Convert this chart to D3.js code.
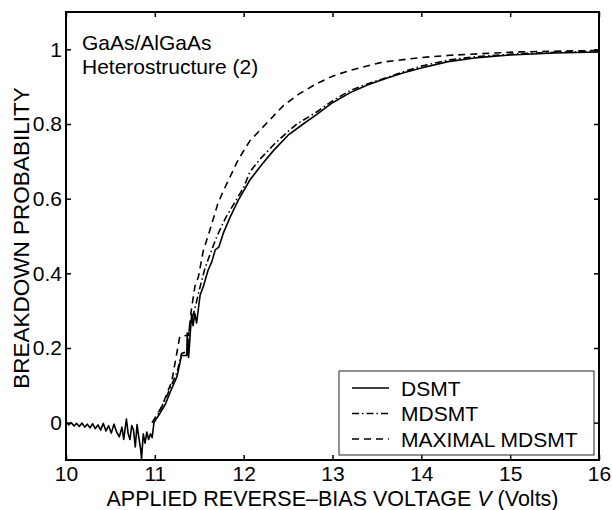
<!DOCTYPE html>
<html><head><meta charset="utf-8">
<script src="https://cdn.jsdelivr.net/npm/d3@7"></script>
<style>html,body{margin:0;padding:0;background:#fff;}svg{display:block;}</style>
</head><body>
<script>
const xTicks = [10, 11, 12, 13, 14, 15, 16];
const yTicks = [0, 0.2, 0.4, 0.6, 0.8, 1];
const yTickLabels = ["0", "0.2", "0.4", "0.6", "0.8", "1"];

const dsmtV = [10.00,10.03,10.06,10.09,10.12,10.15,10.18,10.21,10.24,10.27,10.30,10.33,10.36,10.39,10.42,10.45,10.48,10.51,10.54,10.57,10.60,10.63,10.65,10.68,10.70,10.72,10.74,10.76,10.78,10.80,10.82,10.84,10.85,10.87,10.89,10.91,10.93,10.95,10.97,10.99,11.06,11.12,11.17,11.25,11.30,11.36,11.365,11.38,11.40,11.415,11.43,11.45,11.47,11.51,11.545,11.60,11.64,11.68,11.72,11.77,11.85,11.94,12.07,12.2,12.34,12.5,12.67,12.82,13.0,13.2,13.4,13.6,13.8,14.0,14.3,14.6,15.0,15.5,16.0];
const dsmtP = [0.003,-0.006,0.000,-0.009,-0.002,-0.010,-0.001,-0.012,-0.004,-0.014,-0.003,-0.016,-0.006,-0.020,-0.002,-0.022,-0.008,-0.028,-0.004,-0.025,-0.038,-0.012,-0.045,0.010,-0.030,-0.045,-0.008,-0.020,-0.065,-0.005,-0.040,-0.070,-0.098,-0.030,-0.055,-0.025,-0.045,-0.030,-0.040,0.000,0.026,0.05,0.08,0.124,0.18,0.18,0.24,0.175,0.244,0.29,0.26,0.293,0.267,0.342,0.364,0.409,0.43,0.463,0.47,0.507,0.552,0.596,0.65,0.69,0.73,0.77,0.80,0.825,0.857,0.884,0.905,0.922,0.937,0.95,0.967,0.977,0.985,0.99,0.993];

const mdsmtV = [10.97,11.05,11.15,11.25,11.30,11.36,11.39,11.45,11.50,11.56,11.62,11.70,11.80,11.90,12.0,12.07,12.2,12.34,12.5,12.6,12.82,13.0,13.2,13.4,13.57,13.8,14.0,14.32,14.6,15.07,15.5,16.0];
const mdsmtP = [0.0,0.028,0.08,0.135,0.185,0.19,0.255,0.305,0.355,0.41,0.45,0.50,0.55,0.59,0.63,0.672,0.71,0.745,0.78,0.80,0.832,0.862,0.89,0.908,0.921,0.94,0.955,0.972,0.98,0.988,0.992,0.995];

const maxV = [10.97,11.08,11.19,11.28,11.38,11.41,11.45,11.49,11.545,11.62,11.71,11.77,11.85,11.94,12.07,12.25,12.45,12.62,12.82,13.0,13.2,13.57,14.0,14.32,15.07,16.0];
const maxP = [0.0,0.044,0.11,0.23,0.235,0.30,0.364,0.39,0.46,0.516,0.587,0.62,0.66,0.705,0.755,0.80,0.85,0.88,0.908,0.928,0.944,0.966,0.978,0.984,0.993,0.997];

const legendLabels = ["DSMT", "MDSMT", "MAXIMAL MDSMT"];

const W = 612, H = 510;
const L = 66, R = 599, T = 12, B = 460;
const font = "'Liberation Sans', Arial, Helvetica, sans-serif";

const svg = d3.select("body").append("svg").attr("width", W).attr("height", H);
const x = d3.scaleLinear().domain([10, 16]).range([L, R]);
const y = d3.scaleLinear().domain([-0.1, 1.1]).range([B, T]);

svg.append("clipPath").attr("id", "c").append("rect")
  .attr("x", L).attr("y", T).attr("width", R - L).attr("height", B - T);

const line = d3.line().x(d => x(d[0])).y(d => y(d[1]));
const zip = (a, b) => a.map((v, i) => [v, b[i]]);

const styles = [
  {data: zip(dsmtV, dsmtP), dash: null},
  {data: zip(mdsmtV, mdsmtP), dash: "7,3,1.5,3"},
  {data: zip(maxV, maxP), dash: "7,5"}
];

const g = svg.append("g").attr("clip-path", "url(#c)");
styles.forEach(s => {
  g.append("path").datum(s.data).attr("d", line)
    .attr("fill", "none").attr("stroke", "#000").attr("stroke-width", 1.6)
    .attr("stroke-linejoin", "round")
    .attr("stroke-dasharray", s.dash);
});

// axes with inward ticks
const tickLen = -5;
svg.append("g").attr("transform", `translate(0,${B})`)
  .call(d3.axisBottom(x).tickValues(xTicks).tickSize(tickLen).tickPadding(6).tickFormat(d3.format("d")));
svg.append("g").attr("transform", `translate(0,${T})`)
  .call(d3.axisTop(x).tickValues(xTicks).tickSize(tickLen).tickFormat(""));
svg.append("g").attr("transform", `translate(${L},0)`)
  .call(d3.axisLeft(y).tickValues(yTicks).tickSize(tickLen).tickPadding(4).tickFormat((d, i) => yTickLabels[i]));
svg.append("g").attr("transform", `translate(${R},0)`)
  .call(d3.axisRight(y).tickValues(yTicks).tickSize(tickLen).tickFormat(""));

svg.selectAll(".domain").remove();
svg.selectAll(".tick line").attr("stroke", "#000").attr("stroke-width", 1.5);
svg.selectAll(".tick text").attr("font-family", font).attr("font-size", 21).attr("fill", "#000");

svg.append("rect").attr("x", L).attr("y", T).attr("width", R - L).attr("height", B - T)
  .attr("fill", "none").attr("stroke", "#000").attr("stroke-width", 2);

// axis titles
svg.append("text").attr("x", (L + R) / 2).attr("y", 506).attr("text-anchor", "middle")
  .attr("font-family", font).attr("font-size", 21.5)
  .html("APPLIED REVERSE\u2013BIAS VOLTAGE <tspan font-style='italic'>V</tspan> (Volts)");
svg.append("text").attr("transform", `translate(29,${(T + B) / 2 + 2}) rotate(-90)`)
  .attr("text-anchor", "middle").attr("font-family", font).attr("font-size", 22.5)
  .text("BREAKDOWN PROBABILITY");

// annotation
svg.append("text").attr("x", 82).attr("y", 50).attr("font-family", font).attr("font-size", 21).text("GaAs/AlGaAs");
svg.append("text").attr("x", 82).attr("y", 74).attr("font-family", font).attr("font-size", 21).text("Heterostructure (2)");

// legend
const lg = svg.append("g");
lg.append("rect").attr("x", 339).attr("y", 371).attr("width", 255).attr("height", 84)
  .attr("fill", "#fff").attr("stroke", "#222").attr("stroke-width", 1);
legendLabels.forEach((lab, i) => {
  const yy = 388 + i * 25.5;
  lg.append("line").attr("x1", 352).attr("x2", 389).attr("y1", yy).attr("y2", yy)
    .attr("stroke", "#000").attr("stroke-width", 1.3).attr("stroke-dasharray", styles[i].dash);
  lg.append("text").attr("x", 401).attr("y", yy + 7.5).attr("font-family", font).attr("font-size", 21).text(lab);
});
</script>
</body></html>
